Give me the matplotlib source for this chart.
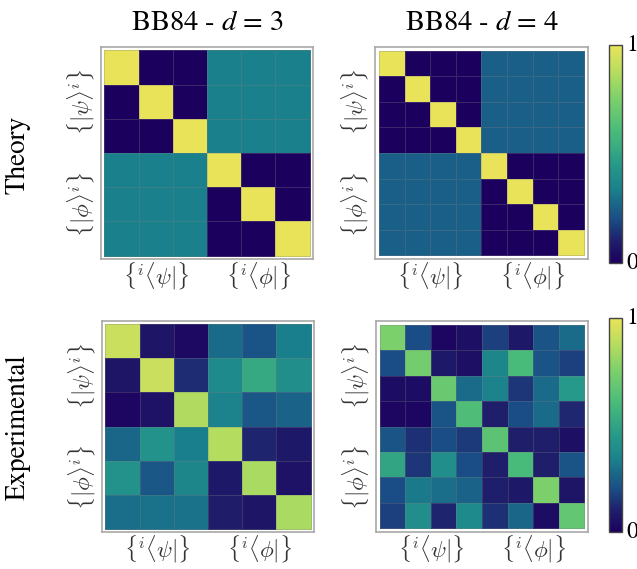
import numpy as np
import matplotlib
matplotlib.use("Agg")
import matplotlib.pyplot as plt
from matplotlib.colors import LinearSegmentedColormap

# ---------------- data ----------------
theory_d3 = [
    [1, 0, 0, 1/3, 1/3, 1/3],
    [0, 1, 0, 1/3, 1/3, 1/3],
    [0, 0, 1, 1/3, 1/3, 1/3],
    [1/3, 1/3, 1/3, 1, 0, 0],
    [1/3, 1/3, 1/3, 0, 1, 0],
    [1/3, 1/3, 1/3, 0, 0, 1],
]
theory_d4 = [
    [1, 0, 0, 0, .25, .25, .25, .25],
    [0, 1, 0, 0, .25, .25, .25, .25],
    [0, 0, 1, 0, .25, .25, .25, .25],
    [0, 0, 0, 1, .25, .25, .25, .25],
    [.25, .25, .25, .25, 1, 0, 0, 0],
    [.25, .25, .25, .25, 0, 1, 0, 0],
    [.25, .25, .25, .25, 0, 0, 1, 0],
    [.25, .25, .25, .25, 0, 0, 0, 1],
]
exp_d3 = [
    [0.92, 0.07, 0.03, 0.28, 0.22, 0.33],
    [0.07, 0.92, 0.13, 0.38, 0.52, 0.40],
    [0.02, 0.06, 0.86, 0.35, 0.23, 0.26],
    [0.27, 0.42, 0.33, 0.87, 0.11, 0.08],
    [0.42, 0.23, 0.36, 0.08, 0.85, 0.06],
    [0.29, 0.30, 0.30, 0.09, 0.07, 0.85],
]
exp_d4 = [
    [0.75, 0.20, 0.02, 0.05, 0.17, 0.08, 0.22, 0.28],
    [0.20, 0.73, 0.08, 0.05, 0.36, 0.60, 0.22, 0.17],
    [0.04, 0.04, 0.70, 0.28, 0.35, 0.15, 0.28, 0.45],
    [0.02, 0.02, 0.22, 0.62, 0.10, 0.20, 0.28, 0.12],
    [0.22, 0.14, 0.20, 0.16, 0.66, 0.10, 0.10, 0.05],
    [0.50, 0.15, 0.40, 0.20, 0.10, 0.60, 0.10, 0.22],
    [0.20, 0.32, 0.29, 0.26, 0.10, 0.08, 0.75, 0.07],
    [0.17, 0.40, 0.11, 0.38, 0.14, 0.27, 0.04, 0.68],
]
titles = [r"BB84 - $d$ = 3", r"BB84 - $d$ = 4"]
row_labels = ["Theory", "Experimental"]
xlabels = [r"$\{{}^{i}\langle\psi|\}$", r"$\{{}^{i}\langle\phi|\}$"]
ylabels = [r"$\{|\psi\rangle^{i}\}$", r"$\{|\phi\rangle^{i}\}$"]

# ---------------- colormap ----------------
cmap = LinearSegmentedColormap.from_list("custom", [
    (0.00, "#1c005e"),
    (0.10, "#1f1f6b"),
    (0.20, "#1a4d85"),
    (0.27, "#1a6689"),
    (0.33, "#1a7f8c"),
    (0.45, "#26998a"),
    (0.60, "#48ba7a"),
    (0.75, "#7ad06c"),
    (0.88, "#b8dd5e"),
    (1.00, "#e9e35a"),
])

W, H = 637, 569
fig = plt.figure(figsize=(W / 100, H / 100), dpi=100)

def fbox(x0, y0, x1, y1):
    return [x0 / W, 1 - y1 / H, (x1 - x0) / W, (y1 - y0) / H]

boxes = [
    [fbox(101, 47, 313, 259), fbox(375, 47, 588, 259)],
    [fbox(102, 321, 314, 532), fbox(376, 321, 588, 532)],
]
mats = [[theory_d3, theory_d4], [exp_d3, exp_d4]]
cbar_boxes = [fbox(609, 45, 622, 263), fbox(609, 318, 622, 532)]

for r in range(2):
    im = None
    for c in range(2):
        M = np.array(mats[r][c])
        n = M.shape[0]
        ax = fig.add_axes(boxes[r][c])
        im = ax.pcolormesh(np.arange(n + 1) - 0.5, np.arange(n + 1) - 0.5, M,
                           cmap=cmap, vmin=0, vmax=1,
                           edgecolors=(0.5, 0.5, 0.5, 0.3), linewidth=0.5)
        pad = 0.1 if n == 6 else 0.15
        ax.set_xlim(-0.5 - pad, n - 0.5 + pad)
        ax.set_ylim(n - 0.5 + pad, -0.5 - pad)
        for s in ax.spines.values():
            s.set_color("#a8a8a8")
            s.set_linewidth(1.2)
        half = n // 2
        ax.set_xticks([(half - 1) / 2, half + (half - 1) / 2])
        ax.set_xticklabels(xlabels, fontsize=16.5, math_fontfamily="cm")
        ax.set_yticks([(half - 1) / 2, half + (half - 1) / 2])
        ax.set_yticklabels(ylabels, fontsize=16.5, math_fontfamily="cm",
                           rotation=90, va="center")
        ax.tick_params(axis="x", length=0, pad=1, colors="#333333")
        ax.tick_params(axis="y", length=0, pad=3, colors="#333333")
        if r == 0:
            bb = boxes[r][c]
            fig.text(bb[0] + bb[2] / 2, 1 - 23 / H, titles[c], ha="center",
                     va="center", fontsize=20.5, family="STIXGeneral",
                     math_fontfamily="stix")
    cax = fig.add_axes(cbar_boxes[r])
    cb = fig.colorbar(im, cax=cax, ticks=[0, 1])
    cb.outline.set_edgecolor("#444444")
    cb.outline.set_linewidth(1.0)
    cax.tick_params(length=0, pad=3)
    cax.set_yticklabels(["0", "1"], fontsize=17, family="STIXGeneral")
    labs = cax.get_yticklabels()
    labs[0].set_va("center")
    labs[1].set_va("center")

fig.text(18 / W, 1 - 155 / H, row_labels[0], rotation=90, ha="center",
         va="center", fontsize=19.5, family="STIXGeneral")
fig.text(18 / W, 1 - 427 / H, row_labels[1], rotation=90, ha="center",
         va="center", fontsize=19.5, family="STIXGeneral")

fig.savefig("out.png", dpi=100)
